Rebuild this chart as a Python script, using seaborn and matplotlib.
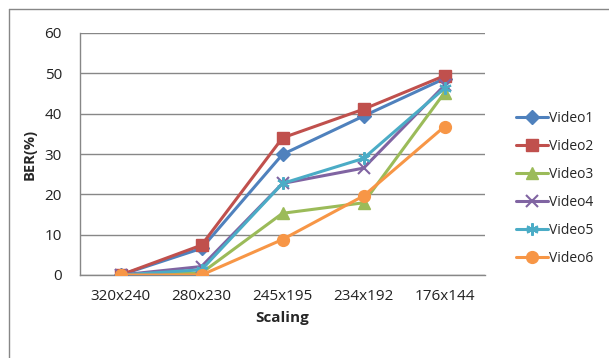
import matplotlib
matplotlib.use("Agg")
import matplotlib.pyplot as plt
from matplotlib.lines import Line2D
import seaborn as sns
import pandas as pd

scaling = ["320x240", "280x230", "245x195", "234x192", "176x144"]
video1 = [0, 6.6, 29.9, 39.4, 48.7]
video2 = [0, 7.4, 34.0, 41.1, 49.4]
video3 = [0, 0.5, 15.3, 17.9, 45.2]
video4 = [0, 2.1, 22.7, 26.5, 47.0]
video5 = [0, 1.3, 22.7, 28.9, 46.3]
video6 = [0, 0.0, 8.8, 19.6, 36.8]
series_names = ["Video1", "Video2", "Video3", "Video4", "Video5", "Video6"]
series_values = [video1, video2, video3, video4, video5, video6]

rows = []
for name, vals in zip(series_names, series_values):
    for i, (lab, v) in enumerate(zip(scaling, vals)):
        rows.append({"pos": i, "Scaling": lab, "BER": v, "Series": name})
df = pd.DataFrame(rows)

colors = ["#4F81BD", "#C0504D", "#9BBB59", "#8064A2", "#4BACC6", "#F79646"]
markers = ["D", "s", "^", "x", (6, 2, 0), "o"]
sizes = [7, 8, 8, 8, 9, 8.5]

sns.set_theme(style="white")
plt.rcParams["font.family"] = ["Open Sans", "DejaVu Sans"]

fig = plt.figure(figsize=(6.09, 3.58), dpi=100)
ax = fig.add_axes([80 / 609, 1 - 275 / 358, (485 - 80) / 609, (275 - 33) / 358])

for name, c, m, s in zip(series_names, colors, markers, sizes):
    sub = df[df["Series"] == name]
    sns.lineplot(data=sub, x="pos", y="BER", ax=ax, color=c, marker=m,
                 markersize=s, linewidth=2.2, markeredgecolor=c,
                 markeredgewidth=1.5 if m in ("x", (6, 2, 0)) else 1.0,
                 label=name, zorder=3)

gray = "#878787"
ax.set_xlim(-0.5, len(scaling) - 0.5)
ax.set_ylim(0, 60)
ax.set_yticks(range(0, 61, 10))
ax.set_xticks(range(len(scaling)))
ax.set_xticklabels(scaling)
ax.set_xticks([i - 0.5 for i in range(len(scaling) + 1)], minor=True)
ax.tick_params(axis="x", which="major", length=0, pad=10, labelsize=11, colors="#222222")
ax.tick_params(axis="x", which="minor", length=5, color=gray, width=1, direction="out")
ax.tick_params(axis="y", which="major", length=5, color=gray, width=1, direction="out",
               pad=8, labelsize=11, labelcolor="#222222")
ax.grid(axis="y", color=gray, linewidth=1)
ax.set_axisbelow(True)
for side in ["top", "right"]:
    ax.spines[side].set_visible(False)
for side in ["left", "bottom"]:
    ax.spines[side].set_color(gray)
    ax.spines[side].set_linewidth(1)

ax.set_xlabel("Scaling", fontsize=11, fontweight="bold", labelpad=5)
ax.set_ylabel("BER(%)", fontsize=10.5, fontweight="bold", labelpad=6)

leg = ax.legend(loc="upper left", bbox_to_anchor=(1.063, 0.70), frameon=False,
                fontsize=10, handlelength=2.3, handletextpad=0.1,
                labelspacing=0.93, borderaxespad=0)

# outer chart frame
fig.add_artist(Line2D([8.5 / 609, 8.5 / 609], [0, 1 - 9 / 358], color=gray, linewidth=1,
                      transform=fig.transFigure))
fig.add_artist(Line2D([8.5 / 609, 1], [1 - 9 / 358, 1 - 9 / 358], color=gray, linewidth=1,
                      transform=fig.transFigure))

fig.savefig("out.png", dpi=100, facecolor="white")
